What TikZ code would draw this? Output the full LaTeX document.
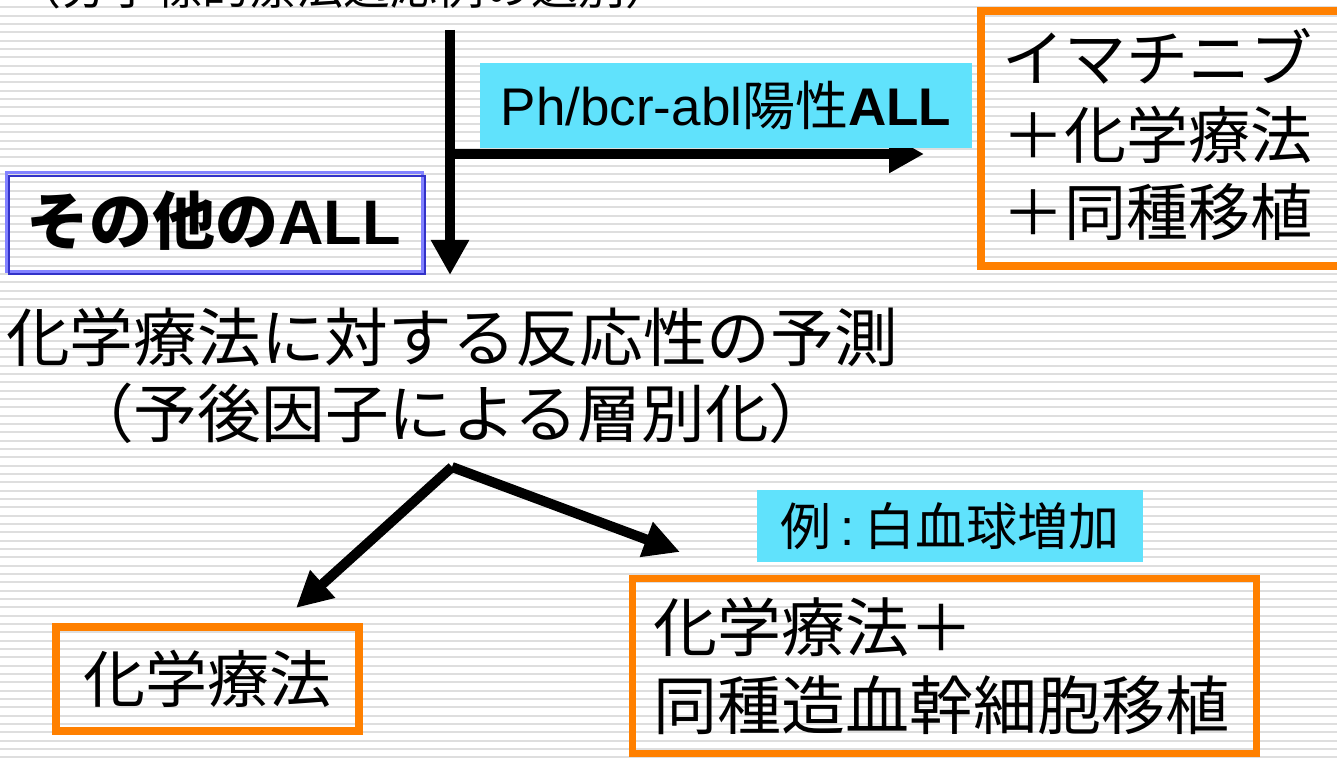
\documentclass[tikz,border=0pt]{standalone}
\usepackage{fontspec}
\setmainfont{Liberation Sans}
\newfontfamily\jp{Noto Sans CJK JP}
\usetikzlibrary{arrows.meta}
\definecolor{stripe}{RGB}{222,222,222}
\definecolor{cyanbg}{RGB}{96,226,252}
\definecolor{orangeb}{RGB}{255,128,0}
\definecolor{bluelight}{RGB}{130,130,255}
\definecolor{bluedark}{RGB}{50,50,200}
\newcommand{\setfs}[1]{\fontsize{#1}{#1}\selectfont}
\begin{document}
\begin{tikzpicture}[x=1pt,y=-1pt,
  txt/.style={inner sep=0pt, anchor=base west, text=black},
  arr/.style={line width=10pt, -{Triangle[length=35pt,width=36pt]}},
  obox/.style={draw=orangeb, line width=7.5pt, inner sep=0pt},
  cbox/.style={fill=cyanbg, draw=none, inner sep=0pt},
]
\useasboundingbox (0,0) rectangle (1337,759);
\fill[white] (0,0) rectangle (1337,759);
\foreach \i in {0,...,91} \draw[stripe, line width=2pt] (0,7.3+8.333*\i) -- (1337,7.3+8.333*\i);

% top (cut-off) text
\node[txt] (top) at (14,5) {\setfs{47}\jp （分子標的療法適応例の選別）};

% vertical arrow
\coordinate (vtop) at (450,30);
\coordinate (vtip) at (450,275);
\draw[arr] (vtop) -- (vtip);

% horizontal branch
\coordinate (hstart) at (445,154);
\coordinate (htip) at (924,154);
\draw[arr] (hstart) -- (htip);

% Ph label
\node[cbox, minimum width=492pt, minimum height=85pt, font=\setfs{53}] (ph) at (726,105.5)
  {Ph/bcr-abl{\jp 陽性}\textbf{ALL}};

% top-right orange box
\node[obox, minimum width=364pt, minimum height=255pt] (imab) at (1163,138.5) {};
\node[txt] (im1) at (1002,82) {\setfs{62}\jp イマチニブ};
\node[txt] (im2) at (1002,159) {\setfs{62}\jp ＋化学療法};
\node[txt] (im3) at (1002,236) {\setfs{62}\jp ＋同種移植};

% other ALL box
\draw[bluelight, line width=3pt] (6,173) rectangle (422,271);
\draw[bluedark, line width=2.5pt] (9,176) rectangle (425,274);
\node[txt] (other) at (26,244) {\setfs{63}{\jp\bfseries その他の}\textbf{ALL}};

% main question text
\node[txt] (q1) at (6,361) {\setfs{63.7}\jp 化学療法に対する反応性の予測};
\node[txt] (q2) at (70,437) {\setfs{63.7}\jp （予後因子による層別化）};

% diagonal arrows
\coordinate (apex) at (452,467);
\coordinate (ltip) at (296,608);
\coordinate (rtip) at (680,552);
\draw[line width=10pt, -{Triangle[length=36pt,width=35pt]}] (apex) -- (ltip);
\draw[line width=10pt, -{Triangle[length=36pt,width=35pt]}] (apex) -- (rtip);

% example label
\node[cbox, minimum width=386pt, minimum height=72pt, font=\setfs{51}] (ex) at (950,526)
  {{\jp 例}\hspace{9pt}:\hspace{9pt}{\jp 白血球増加}};

% chemo box
\node[obox, minimum width=303pt, minimum height=104pt, font=\setfs{62}] (chemo) at (207.5,679) {\jp 化学療法};

% chemo + transplant box
\node[obox, minimum width=624pt, minimum height=175pt] (sct) at (944.5,666) {};
\node[txt] (sct1) at (653,651) {\setfs{64}\jp 化学療法＋};
\node[txt] (sct2) at (653,729) {\setfs{64}\jp 同種造血幹細胞移植};
\end{tikzpicture}
\end{document}
